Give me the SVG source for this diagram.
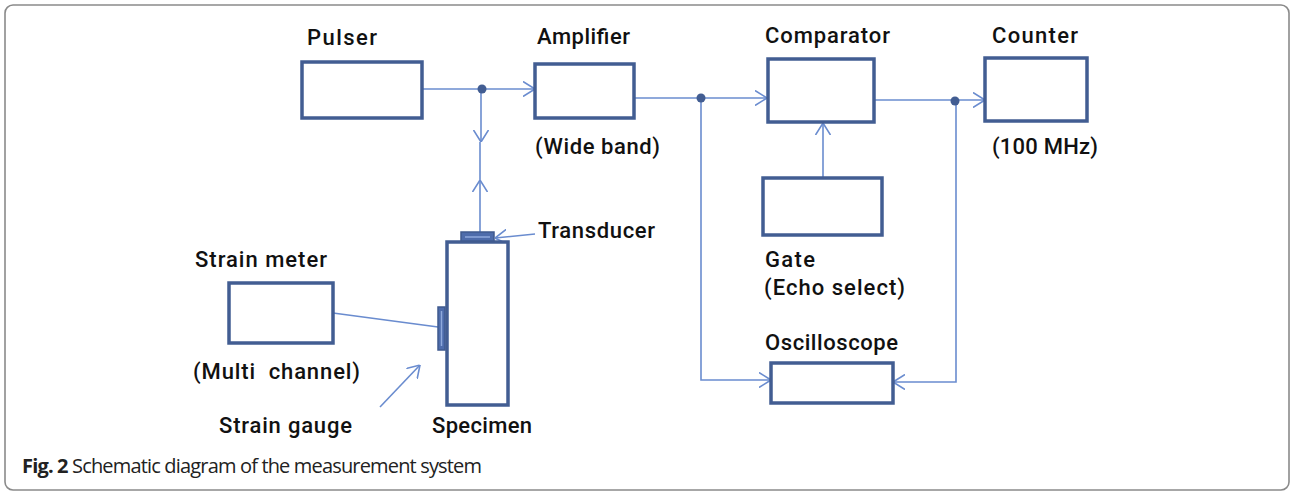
<svg xmlns="http://www.w3.org/2000/svg" width="1291" height="493" viewBox="0 0 1291 493">
<defs>
<style>
.box{fill:#fff;stroke:#425d92;stroke-width:3.5}
.ln{fill:none;stroke:#6a8ccf;stroke-width:1.6}
.dot{fill:#425d92}
.lbl{font-family:Roboto,"Liberation Sans",Arial,sans-serif;font-weight:500;font-size:22px;fill:#111}
.cap{font-family:"Open Sans","Liberation Sans",sans-serif;font-size:20px;fill:#222}
.pad{fill:#4e6cab;stroke:#3f5a8e;stroke-width:1.5}
.padl{stroke:#8fa9dc;stroke-width:1.5}
</style>
<marker id="arr" viewBox="0 0 12 16" refX="12" refY="8" markerWidth="12" markerHeight="16" markerUnits="userSpaceOnUse" orient="auto">
<path d="M0,0.5 L12,8 L0,15.5" fill="none" stroke="#6a8ccf" stroke-width="1.6"/>
</marker>
</defs>
<rect x="5" y="5" width="1284" height="485" rx="8" fill="#fff" stroke="#8a8a8a" stroke-width="1.6"/>

<g id="connectors">
<path class="ln" d="M422,89 H535" marker-end="url(#arr)"/>
<path class="ln" d="M481,89 V142" marker-end="url(#arr)"/>
<path class="ln" d="M480,232 V180" marker-end="url(#arr)"/>
<path class="ln" d="M480,180 V142"/>
<path class="ln" d="M634,98 H767" marker-end="url(#arr)"/>
<path class="ln" d="M874,100 H985" marker-end="url(#arr)"/>
<path class="ln" d="M823,178 V123" marker-end="url(#arr)"/>
<path class="ln" d="M701,98 V380 H771" marker-end="url(#arr)"/>
<path class="ln" d="M956,100 V382 H893" marker-end="url(#arr)"/>
<path class="ln" d="M333,313 L438,327"/>
<path class="ln" d="M535,234 L495,238" marker-end="url(#arr)"/>
<path class="ln" d="M380,407 L420,365" marker-end="url(#arr)"/>
<circle class="dot" cx="482" cy="89" r="4.5"/>
<circle class="dot" cx="701" cy="98" r="4.5"/>
<circle class="dot" cx="955" cy="101" r="4.5"/>
</g>

<g id="pulser">
<rect class="box" x="302" y="62" width="120" height="56"/>
<text class="lbl" x="307" y="45" textLength="70">Pulser</text>
</g>
<g id="amplifier">
<rect class="box" x="535" y="64" width="99" height="54"/>
<text class="lbl" x="537" y="44" textLength="93">Amplifier</text>
<text class="lbl" x="535" y="154" textLength="125">(Wide band)</text>
</g>
<g id="comparator">
<rect class="box" x="768" y="59" width="106" height="63"/>
<text class="lbl" x="765" y="43" textLength="125">Comparator</text>
</g>
<g id="counter">
<rect class="box" x="985" y="58" width="102" height="63"/>
<text class="lbl" x="992" y="43" textLength="86">Counter</text>
<text class="lbl" x="992" y="154" textLength="106">(100 MHz)</text>
</g>
<g id="gate">
<rect class="box" x="763" y="178" width="119" height="57"/>
<text class="lbl" x="765" y="267" textLength="50">Gate</text>
<text class="lbl" x="764" y="295" textLength="141">(Echo select)</text>
</g>
<g id="oscilloscope">
<rect class="box" x="771" y="363" width="122" height="40"/>
<text class="lbl" x="765" y="350" textLength="133">Oscilloscope</text>
</g>
<g id="strain-meter">
<rect class="box" x="229" y="283" width="104" height="60"/>
<text class="lbl" x="195" y="267" textLength="132">Strain meter</text>
<text class="lbl" x="193" y="379" textLength="167" xml:space="preserve">(Multi  channel)</text>
</g>
<g id="specimen">
<rect class="box" x="447" y="242" width="61" height="163"/>
<text class="lbl" x="432" y="433" textLength="100">Specimen</text>
</g>
<g id="transducer">
<rect class="pad" x="461" y="232" width="33" height="9"/>
<line class="padl" x1="465" y1="237" x2="490" y2="237"/>
<text class="lbl" x="538" y="238" textLength="117">Transducer</text>
</g>
<g id="strain-gauge">
<rect class="pad" x="438" y="307" width="7" height="43"/>
<line class="padl" x1="441.5" y1="311" x2="441.5" y2="346"/>
<text class="lbl" x="219" y="433" textLength="133">Strain gauge</text>
</g>

<text class="cap" x="22" y="473" textLength="460"><tspan font-weight="bold">Fig. 2</tspan> Schematic diagram of the measurement system</text>
</svg>
